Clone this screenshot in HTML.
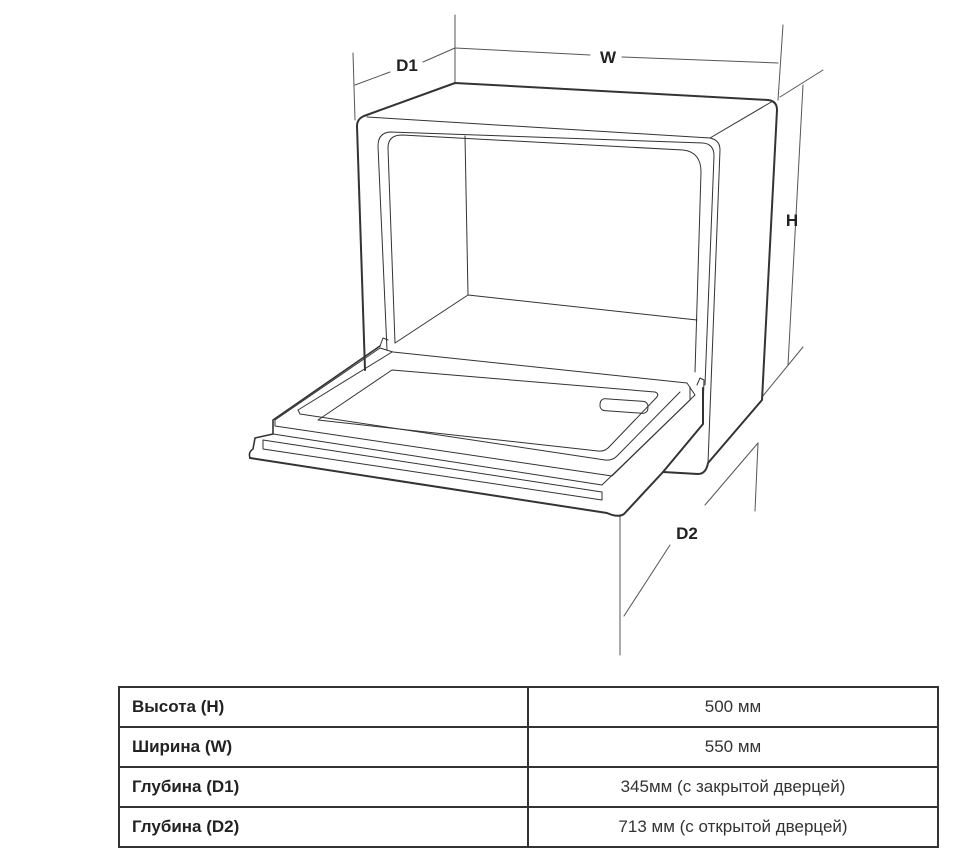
<!DOCTYPE html>
<html><head><meta charset="utf-8"><style>
body{margin:0;background:#fff;width:955px;height:864px;overflow:hidden;font-family:"Liberation Sans",sans-serif}
svg{position:absolute;left:0;top:0}
table{position:absolute;left:118px;top:686px;width:821px;border-collapse:collapse;font-family:"Liberation Sans Narrow","Liberation Sans",sans-serif;font-size:17px;color:#222}
td{border:2px solid #333;height:38px;padding:0 12px;box-sizing:border-box}
tr{height:40px}
td.l{font-weight:bold;width:409px}
td.r{text-align:center;color:#333}
</style></head><body>
<svg width="955" height="864" viewBox="0 0 955 864" fill="none" stroke="#333" stroke-linecap="round" stroke-linejoin="round">
<g stroke="#555" stroke-width="1">
<line x1="353" y1="53" x2="355" y2="120"/>
<line x1="355" y1="85" x2="390" y2="72"/>
<line x1="423" y1="62" x2="455" y2="48"/>
<line x1="455" y1="15" x2="455" y2="83"/>
<line x1="455" y1="48" x2="590" y2="55"/>
<line x1="622" y1="57" x2="778" y2="63"/>
<line x1="783" y1="25" x2="778" y2="100"/>
<line x1="780" y1="97" x2="823" y2="70"/>
<line x1="803" y1="85" x2="788" y2="365"/>
<line x1="762" y1="397" x2="803" y2="347"/>
<line x1="758" y1="443" x2="755" y2="511"/>
<line x1="758" y1="443" x2="705" y2="505"/>
<line x1="670" y1="545" x2="624" y2="616"/>
<line x1="620" y1="516" x2="620" y2="655"/>
</g>
<g fill="#222" stroke="none" font-family="Liberation Sans,sans-serif" font-weight="bold" font-size="17" text-anchor="middle">
<text x="407" y="71">D1</text>
<text x="608" y="63">W</text>
<text x="792" y="226">H</text>
<text x="687" y="539">D2</text>
</g>
<path d="M357 126 Q357 119 364 116 L455 83 L768 100 Q777 101 777 110 L762 400 L708 463 Q706 474 698 474 L663 472" stroke-width="2"/>
<path d="M357 126 L365 370" stroke-width="2"/>
<path d="M367 117 L710 138 Q720 140 720 150 L708 463" stroke-width="1"/>
<path d="M710 138 L773 101" stroke-width="1"/>
<path d="M387 350 L378 146 Q378 133 390 132 L703 143 Q714 144 714 156 L705 385" stroke-width="1"/>
<path d="M395 343 L388 148 Q388 135 402 135 L683 150 Q701 152 701 172 L695 372" stroke-width="1"/>
<path d="M465 136 L468 295 L697 320 M468 295 L395 343" stroke-width="1"/>
<path d="M250 458 Q248 452 253 449 L255 438 L273 434 L273 420 L380 346" stroke-width="1.6"/>
<path d="M250 458 L607 513 Q618 518 624 514 L663 472 L703 424 L703 388" stroke-width="2"/>
<path d="M263 440 L602 492 L602 500 L263 449 Z" stroke-width="1"/>
<path d="M273 434 L602 485 L690 400 L690 387" stroke-width="1"/>
<path d="M275 420 L380 348 L393 352 L687 383 L695 395 L612 476 L275 426 Z" stroke-width="1"/>
<path d="M298 410 L392 352 M298 410 L300 414 L605 460 Q612 461 617 456 L680 392" stroke-width="1"/>
<path d="M318 420 L392 370 L655 392 Q660 394 656 398 L610 446 Q605 452 598 451 L318 420" stroke-width="1"/>
<rect x="600" y="400" width="48" height="12" rx="5" stroke-width="1" transform="rotate(4 624 406)"/>
<path d="M380 346 L383 338 L388 340 M697 385 L700 378 L704 380 L703 410" stroke-width="1"/>
</svg>
<table>
<tr><td class="l">Высота (H)</td><td class="r">500 мм</td></tr>
<tr><td class="l">Ширина (W)</td><td class="r">550 мм</td></tr>
<tr><td class="l">Глубина (D1)</td><td class="r">345мм (с закрытой дверцей)</td></tr>
<tr><td class="l">Глубина (D2)</td><td class="r">713 мм (с открытой дверцей)</td></tr>
</table>
</body></html>
